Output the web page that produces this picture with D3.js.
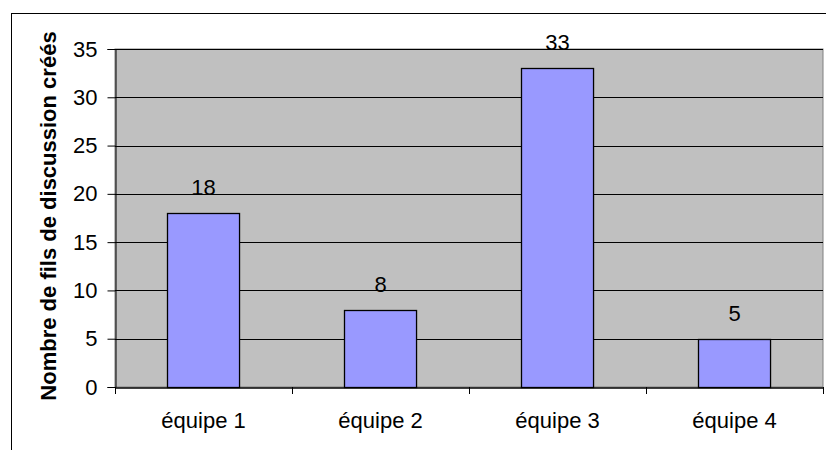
<!DOCTYPE html>
<html>
<head>
<meta charset="utf-8">
<script src="https://cdn.jsdelivr.net/npm/d3@7"></script>
<style>
  body { margin: 0; background: #fff; }
  text { font-family: "Liberation Sans", Arial, sans-serif; }
</style>
</head>
<body>
<script>
const teams = ["équipe 1", "équipe 2", "équipe 3", "équipe 4"];
const threads = [18, 8, 33, 5];
const yTicks = [0, 5, 10, 15, 20, 25, 30, 35];
const yTitle = "Nombre de fils de discussion créés";

const W = 826, H = 450;
const plot = { left: 115, top: 49, right: 823, bottom: 387 };
const fontSize = 22;

const svg = d3.select("body").append("svg")
    .attr("width", W)
    .attr("height", H);

// chart frame
svg.append("rect")
    .attr("x", 11.5).attr("y", 13.5)
    .attr("width", W).attr("height", H)
    .attr("fill", "#fff")
    .attr("stroke", "#000");

const x = d3.scaleBand()
    .domain(teams)
    .range([plot.left, plot.right])
    .paddingInner(0.593)
    .paddingOuter(0.2965);

const y = d3.scaleLinear()
    .domain([0, 35])
    .range([plot.bottom, plot.top]);

// plot background
svg.append("rect")
    .attr("x", plot.left).attr("y", plot.top)
    .attr("width", plot.right - plot.left)
    .attr("height", plot.bottom - plot.top)
    .attr("fill", "#c0c0c0")
    .attr("stroke", "#808080");

// gridlines
svg.append("g").selectAll("line")
    .data(yTicks.filter(d => d > 0))
    .join("line")
    .attr("x1", plot.left).attr("x2", plot.right)
    .attr("y1", d => Math.round(y(d)) + 0.5)
    .attr("y2", d => Math.round(y(d)) + 0.5)
    .attr("stroke", "#000");

// bars
svg.append("g").selectAll("rect")
    .data(threads)
    .join("rect")
    .attr("x", (d, i) => Math.round(x(teams[i])) + 0.5)
    .attr("y", d => Math.round(y(d)) + 0.5)
    .attr("width", x.bandwidth())
    .attr("height", d => plot.bottom - Math.round(y(d)))
    .attr("fill", "#9999ff")
    .attr("stroke", "#000")
    .attr("stroke-width", 1.3);

// value labels
svg.append("g").selectAll("text")
    .data(threads)
    .join("text")
    .attr("x", (d, i) => x(teams[i]) + x.bandwidth() / 2)
    .attr("y", d => y(d) - 18)
    .attr("text-anchor", "middle")
    .attr("font-size", fontSize)
    .attr("fill", "#000")
    .text(d => d);

// y axis
const yAxis = svg.append("g")
    .attr("transform", `translate(${plot.left + 0.5},0)`)
    .call(d3.axisLeft(y).tickValues(yTicks).tickSize(8).tickPadding(10));
yAxis.select(".domain").attr("stroke", "#000");
yAxis.selectAll("text").attr("font-size", fontSize).attr("fill", "#000")
    .attr("font-family", "Liberation Sans, Arial, sans-serif");

// x axis
const xAxis = svg.append("g")
    .attr("transform", `translate(0,${plot.bottom + 0.5})`)
    .call(d3.axisBottom(x).tickSize(0).tickPadding(25));
xAxis.select(".domain").attr("stroke", "#000").attr("stroke-width", 1.5);
xAxis.selectAll("text").attr("font-size", fontSize).attr("fill", "#000")
    .attr("font-family", "Liberation Sans, Arial, sans-serif");

// category separators below the axis
const step = x.step();
svg.append("g").selectAll("line")
    .data(d3.range(teams.length + 1))
    .join("line")
    .attr("x1", i => Math.round(plot.left + i * step) + 0.5)
    .attr("x2", i => Math.round(plot.left + i * step) + 0.5)
    .attr("y1", plot.bottom)
    .attr("y2", plot.bottom + 7)
    .attr("stroke", "#000");

// y title
svg.append("text")
    .attr("transform", `translate(56,216) rotate(-90)`)
    .attr("text-anchor", "middle")
    .attr("font-size", fontSize)
    .attr("font-weight", "bold")
    .attr("fill", "#000")
    .text(yTitle);
</script>
</body>
</html>
